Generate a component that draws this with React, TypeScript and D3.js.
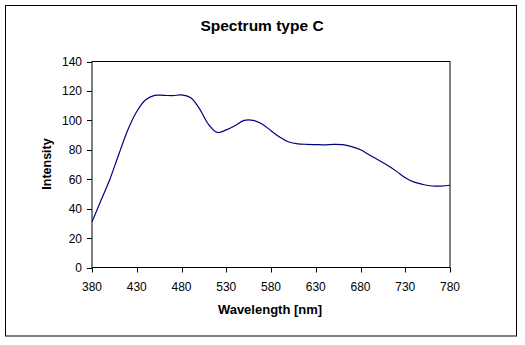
import React from "react";
import * as d3 from "d3";

const wavelengths = [380,390,400,410,420,430,440,450,460,470,480,490,500,510,520,530,540,550,560,570,580,590,600,610,620,630,640,650,660,670,680,690,700,710,720,730,740,750,760,770,780];
const intensity = [31,45.5,60,77,93.5,106,114,117,117,116.8,117.3,115.5,108,97.5,91.8,93.5,96.5,100,100,97.5,93,88.5,85.3,84,83.7,83.5,83.4,83.7,83.5,82.2,80,76.5,73,69.5,65.5,61,58,56.4,55.4,55.3,55.9];
const xTicks = [380,430,480,530,580,630,680,730,780];
const yTicks = [0,20,40,60,80,100,120,140];
const title = "Spectrum type C";
const xTitle = "Wavelength [nm]";
const yTitle = "Intensity";

export default function App() {
  const W = 525, H = 345;
  const left = 92, right = 450, top = 61.5, bottom = 267.5;
  const x = d3.scaleLinear().domain([380, 780]).range([left, right]);
  const y = d3.scaleLinear().domain([0, 140]).range([bottom, top]);
  const pts = wavelengths.map((w, i) => [w, intensity[i]] as [number, number]);
  const line = d3.line<[number, number]>().x(d => x(d[0])).y(d => y(d[1])).curve(d3.curveCatmullRom.alpha(0.5));
  const font = "Arial, 'Liberation Sans', sans-serif";
  return (
    <svg width={W} height={H} style={{ position: "fixed", left: 0, top: 0, background: "#fff" }} fontFamily={font}>
      <rect x={0} y={0} width={W} height={H} fill="#fff" />
      <rect x={5.5} y={5.5} width={511} height={330.5} fill="none" stroke="#000" strokeWidth={1} />
      <text x={262} y={31} textAnchor="middle" fontSize={15.5} fontWeight="bold">{title}</text>
      <rect x={left} y={top} width={right - left} height={bottom - top} fill="none" stroke="#000" strokeWidth={1} />
      {yTicks.map(t => (
        <g key={"y" + t}>
          <line x1={left - 5} x2={left} y1={Math.round(y(t)) + 0.5} y2={Math.round(y(t)) + 0.5} stroke="#000" />
          <text x={82} y={y(t) + 4.5} textAnchor="end" fontSize={12}>{t}</text>
        </g>
      ))}
      {xTicks.map(t => (
        <g key={"x" + t}>
          <line x1={Math.round(x(t)) + 0.5} x2={Math.round(x(t)) + 0.5} y1={bottom} y2={bottom + 5} stroke="#000" />
          <text x={x(t)} y={291} textAnchor="middle" fontSize={12}>{t}</text>
        </g>
      ))}
      <text x={270} y={313.5} textAnchor="middle" fontSize={13} fontWeight="bold">{xTitle}</text>
      <text transform={`translate(51,164) rotate(-90)`} textAnchor="middle" fontSize={12.5} fontWeight="bold">{yTitle}</text>
      <path d={line(pts) || ""} fill="none" stroke="#000080" strokeWidth={1.2} />
    </svg>
  );
}
